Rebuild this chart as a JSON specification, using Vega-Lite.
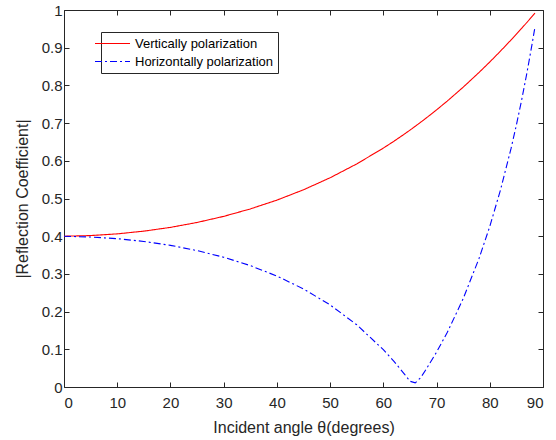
{
  "$schema": "https://vega.github.io/schema/vega-lite/v6.json",
  "width": 479,
  "height": 377,
  "autosize": {"type": "none"},
  "padding": {"left": 64, "top": 10, "right": 13, "bottom": 53},
  "background": "white",
  "config": {
    "font": "Liberation Sans",
    "view": {"stroke": "#262626", "strokeWidth": 1},
    "axis": {
      "grid": false,
      "domain": false,
      "tickColor": "#262626",
      "tickSize": -5,
      "tickWidth": 1,
      "labelColor": "#262626",
      "labelFontSize": 15,
      "titleColor": "#262626",
      "titleFontSize": 16,
      "titleFontWeight": "normal"
    }
  },
  "data": {
    "values": [
      {"angle": 0, "series": "Vertically polarization", "value": 0.3999},
      {"angle": 5, "series": "Vertically polarization", "value": 0.4017},
      {"angle": 10, "series": "Vertically polarization", "value": 0.4062},
      {"angle": 15, "series": "Vertically polarization", "value": 0.4134},
      {"angle": 20, "series": "Vertically polarization", "value": 0.4234},
      {"angle": 25, "series": "Vertically polarization", "value": 0.4364},
      {"angle": 30, "series": "Vertically polarization", "value": 0.4526},
      {"angle": 35, "series": "Vertically polarization", "value": 0.4723},
      {"angle": 40, "series": "Vertically polarization", "value": 0.4957},
      {"angle": 45, "series": "Vertically polarization", "value": 0.5231},
      {"angle": 50, "series": "Vertically polarization", "value": 0.555},
      {"angle": 55, "series": "Vertically polarization", "value": 0.5917},
      {"angle": 60, "series": "Vertically polarization", "value": 0.6337},
      {"angle": 62, "series": "Vertically polarization", "value": 0.652},
      {"angle": 64, "series": "Vertically polarization", "value": 0.6713},
      {"angle": 65, "series": "Vertically polarization", "value": 0.6813},
      {"angle": 66, "series": "Vertically polarization", "value": 0.6916},
      {"angle": 67, "series": "Vertically polarization", "value": 0.7021},
      {"angle": 68, "series": "Vertically polarization", "value": 0.7128},
      {"angle": 70, "series": "Vertically polarization", "value": 0.7351},
      {"angle": 72, "series": "Vertically polarization", "value": 0.7583},
      {"angle": 75, "series": "Vertically polarization", "value": 0.7952},
      {"angle": 78, "series": "Vertically polarization", "value": 0.8346},
      {"angle": 80, "series": "Vertically polarization", "value": 0.8621},
      {"angle": 82, "series": "Vertically polarization", "value": 0.8908},
      {"angle": 84, "series": "Vertically polarization", "value": 0.9206},
      {"angle": 85, "series": "Vertically polarization", "value": 0.9359},
      {"angle": 86, "series": "Vertically polarization", "value": 0.9515},
      {"angle": 87, "series": "Vertically polarization", "value": 0.9674},
      {"angle": 88, "series": "Vertically polarization", "value": 0.9836},
      {"angle": 88.5, "series": "Vertically polarization", "value": 0.9918},
      {"angle": 0, "series": "Horizontally polarization", "value": 0.3998},
      {"angle": 5, "series": "Horizontally polarization", "value": 0.3979},
      {"angle": 10, "series": "Horizontally polarization", "value": 0.3934},
      {"angle": 15, "series": "Horizontally polarization", "value": 0.3861},
      {"angle": 20, "series": "Horizontally polarization", "value": 0.3757},
      {"angle": 25, "series": "Horizontally polarization", "value": 0.3619},
      {"angle": 30, "series": "Horizontally polarization", "value": 0.3442},
      {"angle": 35, "series": "Horizontally polarization", "value": 0.322},
      {"angle": 40, "series": "Horizontally polarization", "value": 0.2944},
      {"angle": 45, "series": "Horizontally polarization", "value": 0.2602},
      {"angle": 50, "series": "Horizontally polarization", "value": 0.2178},
      {"angle": 55, "series": "Horizontally polarization", "value": 0.1651},
      {"angle": 60, "series": "Horizontally polarization", "value": 0.099},
      {"angle": 62, "series": "Horizontally polarization", "value": 0.0679},
      {"angle": 64, "series": "Horizontally polarization", "value": 0.0337},
      {"angle": 65, "series": "Horizontally polarization", "value": 0.0153},
      {"angle": 66, "series": "Horizontally polarization", "value": 0.011},
      {"angle": 67, "series": "Horizontally polarization", "value": 0.0245},
      {"angle": 68, "series": "Horizontally polarization", "value": 0.046},
      {"angle": 70, "series": "Horizontally polarization", "value": 0.0925},
      {"angle": 72, "series": "Horizontally polarization", "value": 0.1444},
      {"angle": 75, "series": "Horizontally polarization", "value": 0.2342},
      {"angle": 78, "series": "Horizontally polarization", "value": 0.3417},
      {"angle": 80, "series": "Horizontally polarization", "value": 0.4258},
      {"angle": 82, "series": "Horizontally polarization", "value": 0.522},
      {"angle": 84, "series": "Horizontally polarization", "value": 0.6329},
      {"angle": 85, "series": "Horizontally polarization", "value": 0.6949},
      {"angle": 86, "series": "Horizontally polarization", "value": 0.762},
      {"angle": 87, "series": "Horizontally polarization", "value": 0.8347},
      {"angle": 88, "series": "Horizontally polarization", "value": 0.9138},
      {"angle": 88.5, "series": "Horizontally polarization", "value": 0.9559}
    ]
  },
  "layer": [
    {
      "mark": {"type": "line", "strokeWidth": 1.1},
      "encoding": {
        "x": {
          "field": "angle",
          "type": "quantitative",
          "scale": {"domain": [0, 90], "nice": false, "zero": false},
          "axis": {"orient": "bottom", "values": [0, 10, 20, 30, 40, 50, 60, 70, 80, 90], "title": "Incident angle θ(degrees)", "labelPadding": 13, "titlePadding": 9}
        },
        "y": {
          "field": "value",
          "type": "quantitative",
          "scale": {"domain": [0, 1], "nice": false},
          "axis": {"orient": "left", "values": [0, 0.1, 0.2, 0.3, 0.4, 0.5, 0.6, 0.7, 0.8, 0.9, 1], "format": ".1~f", "title": "|Reflection Coefficient|", "labelPadding": 7, "titlePadding": 11}
        },
        "color": {
          "field": "series",
          "type": "nominal",
          "scale": {"domain": ["Vertically polarization", "Horizontally polarization"], "range": ["#ff0000", "#0000ff"]},
          "legend": {
            "orient": "none",
            "legendX": 37,
            "legendY": 22,
            "title": null,
            "symbolType": "M-2.5,0H2.5",
            "symbolSize": 196,
            "symbolStrokeWidth": 1,
            "strokeColor": "#262626",
            "fillColor": "white",
            "padding": 4,
            "labelFontSize": 13,
            "labelColor": "#000000",
            "labelOffset": 15,
            "rowPadding": 3
          }
        },
        "strokeDash": {
          "field": "series",
          "type": "nominal",
          "scale": {"domain": ["Vertically polarization", "Horizontally polarization"], "range": [[1, 0], [7, 3, 2, 3]]},
          "legend": {
            "orient": "none",
            "legendX": 37,
            "legendY": 22,
            "title": null,
            "symbolType": "M-2.5,0H2.5",
            "symbolSize": 196,
            "symbolStrokeWidth": 1,
            "strokeColor": "#262626",
            "fillColor": "white",
            "padding": 4,
            "labelFontSize": 13,
            "labelColor": "#000000",
            "labelOffset": 15,
            "rowPadding": 3
          }
        }
      }
    },
    {
      "mark": {"type": "line", "opacity": 0},
      "encoding": {
        "x": {
          "field": "angle",
          "type": "quantitative",
          "axis": {"orient": "top", "values": [0, 10, 20, 30, 40, 50, 60, 70, 80, 90], "labels": false, "title": null}
        },
        "y": {
          "field": "value",
          "type": "quantitative",
          "axis": {"orient": "right", "values": [0, 0.1, 0.2, 0.3, 0.4, 0.5, 0.6, 0.7, 0.8, 0.9, 1], "labels": false, "title": null}
        },
        "detail": {"field": "series"}
      }
    }
  ],
  "resolve": {"axis": {"x": "independent", "y": "independent"}}
}
